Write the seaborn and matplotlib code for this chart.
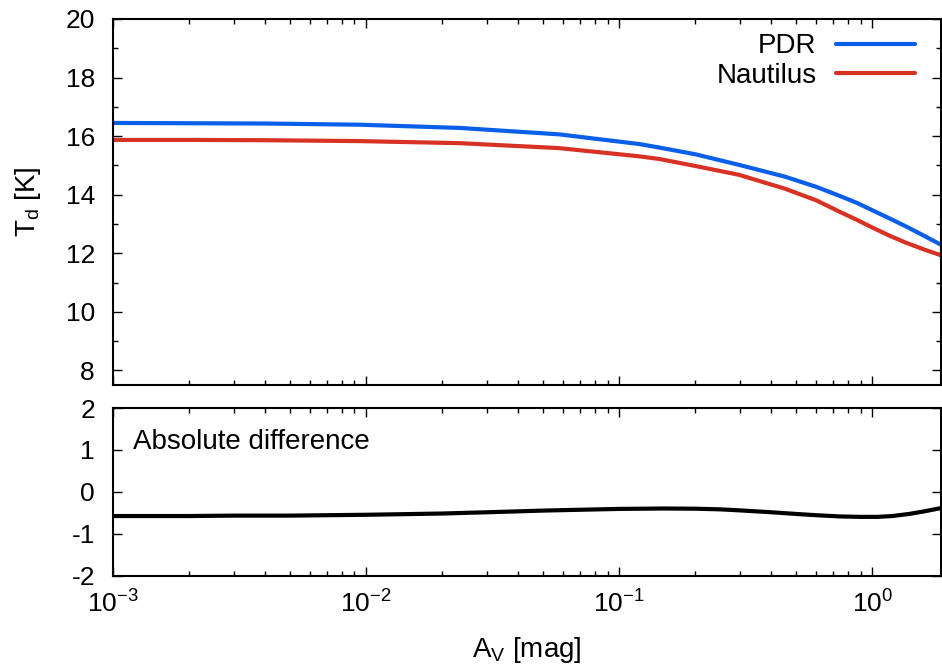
import numpy as np
import pandas as pd
import matplotlib
matplotlib.use("Agg")
import matplotlib.pyplot as plt
import seaborn as sns
from matplotlib.ticker import LogLocator, MultipleLocator, LogFormatterSciNotation

# =========================
# Data
# =========================
av = [0.001, 0.002, 0.004, 0.0094, 0.0234, 0.058, 0.12, 0.144, 0.2, 0.297,
      0.45, 0.6, 0.738, 0.87, 1.0, 1.17, 1.35, 1.6, 1.87]
t_pdr = [16.45, 16.44, 16.43, 16.39, 16.28, 16.06, 15.73, 15.61, 15.38, 15.02,
         14.62, 14.27, 13.97, 13.72, 13.47, 13.19, 12.93, 12.60, 12.29]
t_nautilus = [15.87, 15.87, 15.86, 15.83, 15.76, 15.59, 15.31, 15.22, 14.98, 14.68,
              14.21, 13.81, 13.43, 13.14, 12.88, 12.60, 12.37, 12.13, 11.93]

av_diff = [0.001, 0.002, 0.003, 0.005, 0.01, 0.02, 0.03, 0.05, 0.07, 0.1,
           0.15, 0.2, 0.25, 0.3, 0.4, 0.5, 0.6, 0.75, 0.9, 1.05, 1.2, 1.4, 1.6, 1.87]
abs_diff = [-0.58, -0.58, -0.57, -0.57, -0.55, -0.52, -0.49, -0.45, -0.43, -0.41,
            -0.40, -0.405, -0.42, -0.445, -0.49, -0.53, -0.56, -0.59, -0.60, -0.60,
            -0.58, -0.53, -0.47, -0.39]

blue = "#0a5fe8"
red = "#d83224"

# =========================
# Style
# =========================
sns.set_style("ticks")
plt.rcParams["font.family"] = ["Liberation Sans", "DejaVu Sans"]
plt.rcParams["mathtext.fontset"] = "custom"
plt.rcParams["mathtext.rm"] = "Liberation Sans"
plt.rcParams["mathtext.it"] = "Liberation Sans"
plt.rcParams["mathtext.default"] = "regular"
plt.rcParams["axes.unicode_minus"] = False
for key in ["text.color", "axes.labelcolor", "xtick.color", "ytick.color", "axes.edgecolor"]:
    plt.rcParams[key] = "black"

fig = plt.figure(figsize=(9.42, 6.67), dpi=100)
ax1 = fig.add_axes([113 / 942, 1 - 385 / 667, 828 / 942, 366 / 667])
ax2 = fig.add_axes([113 / 942, 1 - 575.5 / 667, 828 / 942, 167.5 / 667])

top = pd.DataFrame({"av": av, "PDR": t_pdr, "Nautilus": t_nautilus})
bot = pd.DataFrame({"av": av_diff, "diff": abs_diff})

sns.lineplot(data=top, x="av", y="PDR", ax=ax1, color=blue, lw=3.0, label="PDR")
sns.lineplot(data=top, x="av", y="Nautilus", ax=ax1, color=red, lw=3.0, label="Nautilus")
sns.lineplot(data=bot, x="av", y="diff", ax=ax2, color="black", lw=3.0)

for ax in (ax1, ax2):
    ax.set_xscale("log")
    ax.set_xlim(1e-3, 1.87)
    ax.xaxis.set_major_locator(LogLocator(base=10, numticks=10))
    ax.xaxis.set_minor_locator(LogLocator(base=10, subs=np.arange(2, 10), numticks=20))
    ax.tick_params(which="both", direction="in", top=True, right=True,
                   width=1.0, labelsize=19)
    ax.tick_params(axis="y", pad=13)
    ax.tick_params(axis="x", pad=11)
    ax.tick_params(which="major", length=6.5)
    ax.tick_params(which="minor", length=3.5)
    for s in ax.spines.values():
        s.set_linewidth(1.5)
    ax.set_ylabel("")
    ax.set_xlabel("")

ax1.set_ylim(7.5, 20)
ax1.yaxis.set_major_locator(MultipleLocator(2))
ax1.yaxis.set_minor_locator(MultipleLocator(1))
ax1.tick_params(axis="x", labelbottom=False)
ax1.set_ylabel("T$_d$ [K]", fontsize=20, labelpad=16)

ax2.set_ylim(-2, 2)
ax2.yaxis.set_major_locator(MultipleLocator(1))
ax2.xaxis.set_major_formatter(LogFormatterSciNotation())
ax2.set_xlabel("A$_V$ [mag]", fontsize=20, labelpad=12)
ax2.text(0.024, 0.80, "Absolute difference", transform=ax2.transAxes,
         fontsize=20, va="center", ha="left")

ax1.legend(loc="upper right", frameon=False, markerfirst=False, fontsize=20,
           handlelength=2.85, handletextpad=0.7, labelspacing=0.12,
           borderpad=0, borderaxespad=0, bbox_to_anchor=(0.9686, 0.961))

fig.savefig("out.png", dpi=100)
